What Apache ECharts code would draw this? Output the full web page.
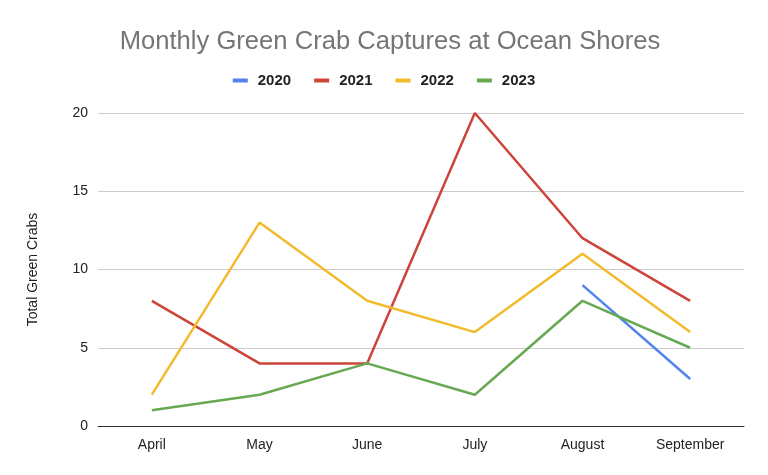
<!DOCTYPE html>
<html>
<head>
<meta charset="utf-8">
<script src="https://cdn.jsdelivr.net/npm/echarts@6/dist/echarts.min.js"></script>
<style>
  html, body { margin: 0; padding: 0; background: #fff; }
  #chart { width: 768px; height: 475px; }
</style>
</head>
<body>
<div id="chart"></div>
<script>
var months = ['April', 'May', 'June', 'July', 'August', 'September'];
var y2020 = [null, null, null, null, 9, 3];
var y2021 = [8, 4, 4, 20, 12, 8];
var y2022 = [2, 13, 8, 6, 11, 6];
var y2023 = [1, 2, 4, 2, 8, 5];
var yTicks = [0, 5, 10, 15, 20];

var font = 'Arial, "Liberation Sans", sans-serif';

function line(name, data, color) {
    return {
        name: name,
        type: 'line',
        data: data,
        symbol: 'none',
        connectNulls: false,
        lineStyle: { width: 2.5, color: color },
        itemStyle: { color: color }
    };
}

var myChart = echarts.init(document.getElementById('chart'));
myChart.setOption({
    backgroundColor: '#ffffff',
    animation: false,
    title: {
        text: 'Monthly Green Crab Captures at Ocean Shores',
        left: 385,
        textAlign: 'center',
        top: 24,
        textStyle: { fontFamily: font, fontSize: 25.6, fontWeight: 'normal', color: '#757575' }
    },
    legend: {
        top: 68,
        left: 'center',
        itemWidth: 15,
        itemHeight: 4,
        itemGap: 23,
        icon: 'rect',
        textStyle: { fontFamily: font, fontSize: 15, fontWeight: 'bold', color: '#222', padding: [0, 0, 0, 5] },
        data: ['2020', '2021', '2022', '2023']
    },
    grid: { left: 98, right: 24, top: 113, bottom: 49, containLabel: false },
    xAxis: {
        type: 'category',
        data: months,
        boundaryGap: true,
        axisLine: { lineStyle: { color: '#333', width: 1 } },
        axisTick: { show: false },
        axisLabel: { fontFamily: font, fontSize: 14, color: '#222', margin: 12 }
    },
    yAxis: {
        type: 'value',
        min: yTicks[0],
        max: yTicks[yTicks.length - 1],
        interval: 5,
        name: 'Total Green Crabs',
        nameLocation: 'middle',
        nameGap: 58,
        nameTextStyle: { fontFamily: font, fontSize: 14, color: '#222' },
        axisLine: { show: false },
        axisTick: { show: false },
        axisLabel: { fontFamily: font, fontSize: 14, color: '#222', margin: 10 },
        splitLine: { lineStyle: { color: '#cccccc', width: 1 } }
    },
    series: [
        line('2020', y2020, '#5383ec'),
        line('2021', y2021, '#cc443a'),
        line('2022', y2022, '#f1bb2c'),
        line('2023', y2023, '#67a853')
    ]
});
</script>
</body>
</html>
